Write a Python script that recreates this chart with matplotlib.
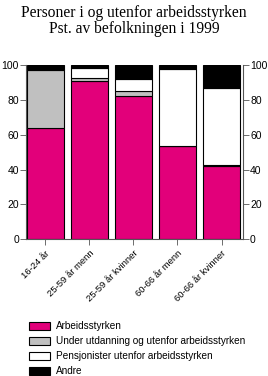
import numpy as np
import matplotlib.pyplot as plt

groups = ['16-24 år', '25-59 år menn', '25-59 år kvinner', '60-66 år menn', '60-66 år kvinner']
arbeid = [64, 91, 82, 53.5, 42]
utdanning = [33, 1.5, 3, 0, 0.5]
pensjon = [1, 6, 7, 44, 44.5]
andre = [2, 1.5, 8, 2.5, 13]

series = [
    ('Arbeidsstyrken', arbeid, '#e2007a'),
    ('Under utdanning og utenfor arbeidsstyrken', utdanning, '#c0c0c0'),
    ('Pensjonister utenfor arbeidsstyrken', pensjon, '#ffffff'),
    ('Andre', andre, '#000000'),
]

plt.rcParams['font.family'] = ['Liberation Sans', 'DejaVu Sans']

fig = plt.figure(figsize=(2.68, 3.76), dpi=100)
ax = fig.add_axes([0.097, 0.364, 0.81, 0.463])

x = np.arange(len(groups))
bottom = np.zeros(len(groups))
for name, vals, col in series:
    ax.bar(x, vals, width=0.84, bottom=bottom, color=col, edgecolor='black',
           linewidth=0.8, label=name)
    bottom += np.array(vals)

ax.set_xlim(-0.44, 4.49)
ax.set_ylim(0, 100)
ax.set_yticks(range(0, 101, 20))
ax.tick_params(axis='y', labelsize=7.5, length=4, width=0.6, color='#555555',
               left=True, right=True, labelleft=True, labelright=True, pad=1)
ax.set_xticks(x)
ax.set_xticklabels(groups, rotation=45, ha='right', rotation_mode='anchor', fontsize=6.8)
ax.tick_params(axis='x', length=4, width=0.6, color='#555555', pad=3)
ax.spines['top'].set_visible(False)
for s in ['left', 'right', 'bottom']:
    ax.spines[s].set_color('#555555')
    ax.spines[s].set_linewidth(0.8)

fig.text(0.5, 0.988, 'Personer i og utenfor arbeidsstyrken\nPst. av befolkningen i 1999',
         ha='center', va='top', fontsize=11.2, family='Liberation Serif', linespacing=1.05)

handles, labels = ax.get_legend_handles_labels()
fig.legend(handles, labels, loc='upper left', bbox_to_anchor=(0.11, 0.145),
           frameon=False, fontsize=7.2, handlelength=2.1, handleheight=0.75,
           labelspacing=0.5, handletextpad=0.6, borderpad=0, borderaxespad=0)

plt.savefig('out.png', dpi=100)
